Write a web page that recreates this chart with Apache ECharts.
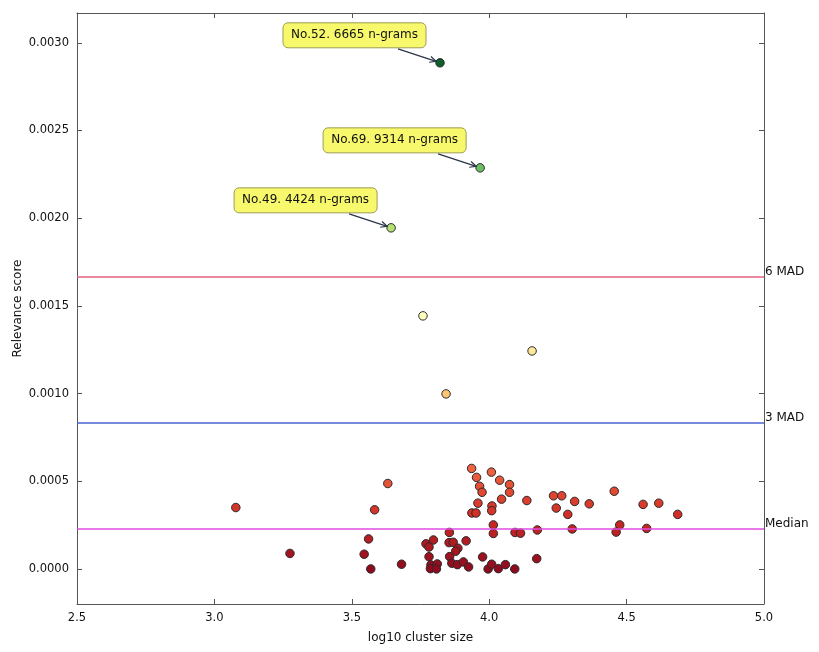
<!DOCTYPE html>
<html>
<head>
<meta charset="utf-8">
<script src="https://cdn.jsdelivr.net/npm/echarts@6/dist/echarts.min.js"></script>
<style>
html, body { margin: 0; padding: 0; background: #fff; }
#main { width: 819px; height: 652px; }
</style>
</head>
<body>
<div id="main"></div>
<script>
var myChart = echarts.init(document.getElementById('main'));

// log10 cluster size
var clusterSize = [
    3.821, 3.967, 3.643, 3.759, 4.156, 3.843,
    3.078, 3.275, 3.631, 3.583, 3.561, 3.545, 3.569, 3.681,
    3.936, 4.008, 3.954, 4.038, 3.965, 4.074, 3.974, 4.074, 4.045, 4.137,
    3.959, 4.010, 4.009, 3.937, 3.952, 4.015, 4.015, 4.094, 4.114, 4.175,
    3.855, 3.797, 3.770, 3.781, 3.854, 3.869, 3.916, 3.886, 3.878, 3.781,
    3.856, 3.976, 4.173, 3.788, 3.811, 3.864, 3.884, 3.906, 3.925, 3.786,
    3.808, 3.996, 4.009, 4.033, 4.059, 4.093,
    4.234, 4.264, 4.455, 4.244, 4.311, 4.364, 4.286, 4.560, 4.617, 4.686,
    4.302, 4.475, 4.462, 4.573
];
// relevance score
var relevance = [
    0.002886, 0.002287, 0.001945, 0.001443, 0.001243, 0.000998,
    0.000350, 0.0000884, 0.000487, 0.000337, 0.000171, 0.0000838, 0.0, 0.0000268,
    0.000573, 0.000552, 0.000522, 0.000506, 0.000471, 0.000481, 0.000437, 0.000437, 0.000398, 0.000390,
    0.000375, 0.000359, 0.000332, 0.000319, 0.000319, 0.000251, 0.000202, 0.000208, 0.000204, 0.000222,
    0.000208, 0.000165, 0.000143, 0.000125, 0.000150, 0.000152, 0.000160, 0.000118, 0.000101, 0.0000696,
    0.0000702, 0.0000684, 0.0000587, 0.0000228, 0.0000285, 0.0000325, 0.0000245, 0.0000399, 0.0000114, 0.0000017,
    0.0, 0.0, 0.0000268, 0.0000017, 0.0000245, 0.0,
    0.000417, 0.000417, 0.000443, 0.000347, 0.000385, 0.000371, 0.000311, 0.000368, 0.000375, 0.000311,
    0.000228, 0.000251, 0.000210, 0.000231
];

var thresholdNames = ['6 MAD', '3 MAD', 'Median'];
var thresholdValues = [0.001665, 0.000833, 0.000228];
var thresholdColors = ['#e2627f', '#4a62cf', '#e04ce0'];

var annotatedIndex = [0, 1, 2];
var annotatedText = ['No.52. 6665 n-grams', 'No.69. 9314 n-grams', 'No.49. 4424 n-grams'];

var yTicks = [0, 0.0005, 0.001, 0.0015, 0.002, 0.0025, 0.003];
var xMin = 2.5, xMax = 5.0;

var data = clusterSize.map(function (x, i) { return [x, relevance[i]]; });

var font = 'DejaVu Sans';
var frameColor = '#555';

function yAxisBase(pos, showLabel) {
    return {
        type: 'value',
        position: pos,
        min: -0.0002,
        max: 0.00317,
        name: showLabel ? 'Relevance score' : '',
        nameLocation: 'middle',
        nameGap: 53,
        nameMoveOverlap: false,
        nameTextStyle: { color: '#111', fontSize: 12, fontFamily: font },
        axisLine: { show: true, onZero: false, lineStyle: { color: frameColor, width: 1 } },
        axisTick: { show: true, inside: true, length: 5, customValues: yTicks, lineStyle: { color: frameColor } },
        axisLabel: {
            show: showLabel,
            customValues: yTicks,
            color: '#111',
            fontSize: 11.5,
            fontFamily: font,
            margin: 8,
            formatter: function (v) { return v.toFixed(4); }
        },
        splitLine: { show: false }
    };
}

function xAxisBase(pos, showLabel) {
    return {
        type: 'value',
        position: pos,
        min: xMin,
        max: xMax,
        interval: 0.5,
        name: showLabel ? 'log10 cluster size' : '',
        nameLocation: 'middle',
        nameGap: 28,
        nameTextStyle: { color: '#111', fontSize: 12, fontFamily: font },
        axisLine: { show: true, onZero: false, lineStyle: { color: frameColor, width: 1 } },
        axisTick: { show: true, inside: true, length: 5, lineStyle: { color: frameColor } },
        axisLabel: {
            show: showLabel,
            color: '#111',
            fontSize: 11.5,
            fontFamily: font,
            margin: 8,
            formatter: function (v) { return v.toFixed(1); }
        },
        splitLine: { show: false }
    };
}

var option = {
    backgroundColor: '#fff',
    animation: false,
    grid: { left: 77, right: 55, top: 13, bottom: 48, containLabel: false, outerBoundsMode: 'none' },
    xAxis: [xAxisBase('bottom', true), xAxisBase('top', false)],
    yAxis: [yAxisBase('left', true), yAxisBase('right', false)],
    visualMap: {
        show: false,
        type: 'continuous',
        dimension: 1,
        seriesIndex: 0,
        min: 0,
        max: 0.00289,
        inRange: {
            color: ['#8e0b1f', '#cf2a24', '#f06440', '#fdae61', '#fee08b', '#ffffbf',
                    '#d9ef8b', '#a6d96a', '#66bd63', '#1a9850', '#0e5e2a']
        }
    },
    series: [
        {
            type: 'scatter',
            symbolSize: 8.5,
            itemStyle: { borderColor: '#2a2a2a', borderWidth: 1, opacity: 1 },
            data: data,
            markLine: {
                silent: true,
                symbol: 'none',
                animation: false,
                data: thresholdValues.map(function (v, i) {
                    return [
                        {
                            name: thresholdNames[i],
                            coord: [xMin, v],
                            lineStyle: { color: thresholdColors[i], width: 1.5, type: 'solid' }
                        },
                        { coord: [xMax, v] }
                    ];
                }),
                label: {
                    show: true,
                    position: 'end',
                    distance: 1,
                    offset: [0, -5],
                    formatter: '{b}',
                    color: '#111',
                    fontSize: 12,
                    fontFamily: font
                }
            }
        }
    ]
};

myChart.setOption(option);

// annotation boxes with arrows
var graphics = [];
annotatedIndex.forEach(function (idx, k) {
    var p = myChart.convertToPixel({ xAxisIndex: 0, yAxisIndex: 0 }, data[idx]);
    var bx = p[0] - 157, by = p[1] - 40;
    graphics.push({
        type: 'rect',
        shape: { x: bx, y: by, width: 143, height: 25, r: 5 },
        style: { fill: '#f8f86c', stroke: '#9c9c55', lineWidth: 1 },
        z: 10
    });
    graphics.push({
        type: 'text',
        x: bx + 71.5,
        y: by + 12.5,
        style: {
            text: annotatedText[k],
            fill: '#111',
            font: '12px "DejaVu Sans"',
            align: 'center',
            verticalAlign: 'middle'
        },
        z: 11
    });
    var sx = p[0] - 42, sy = p[1] - 14;
    var tx = p[0] - 4, ty = p[1] - 1.5;
    var ang = Math.atan2(ty - sy, tx - sx);
    var hl = 7, ha = 0.45;
    graphics.push({
        type: 'line',
        shape: { x1: sx, y1: sy, x2: tx, y2: ty },
        style: { stroke: '#2b3548', lineWidth: 1.2 },
        z: 10
    });
    graphics.push({
        type: 'polyline',
        shape: {
            points: [
                [tx - hl * Math.cos(ang - ha), ty - hl * Math.sin(ang - ha)],
                [tx, ty],
                [tx - hl * Math.cos(ang + ha), ty - hl * Math.sin(ang + ha)]
            ]
        },
        style: { stroke: '#2b3548', lineWidth: 1.2, fill: null },
        z: 10
    });
});
myChart.setOption({ graphic: graphics });
</script>
</body>
</html>
